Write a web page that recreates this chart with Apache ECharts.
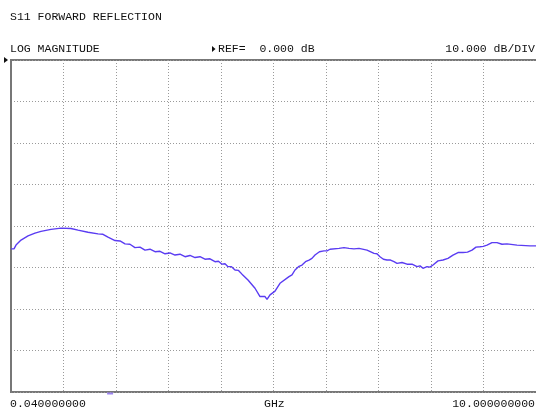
<!DOCTYPE html>
<html><head><meta charset="utf-8">
<script src="https://cdn.jsdelivr.net/npm/echarts@6/dist/echarts.min.js"></script>
<style>html,body{margin:0;padding:0;background:#fff}#c{width:536px;height:408px}</style>
</head><body><div id="c"></div>
<script>
// Frequency (GHz) and S11 log magnitude (dB)
const freqGHz = [0.04,0.097,0.135,0.23,0.363,0.495,0.609,0.799,0.989,1.178,1.311,1.501,1.691,1.785,1.88,2.013,2.108,2.203,2.297,2.392,2.487,2.582,2.677,2.772,2.867,2.962,3.056,3.151,3.246,3.341,3.436,3.531,3.625,3.72,3.815,3.91,3.976,4.043,4.1,4.157,4.223,4.29,4.356,4.422,4.536,4.669,4.764,4.859,4.897,4.954,5.049,5.143,5.314,5.371,5.428,5.494,5.561,5.627,5.694,5.75,5.807,5.892,5.978,6.035,6.092,6.263,6.357,6.452,6.547,6.642,6.794,6.927,6.983,7.04,7.106,7.173,7.24,7.306,7.363,7.458,7.553,7.648,7.743,7.8,7.856,7.932,7.989,8.046,8.141,8.236,8.33,8.425,8.52,8.615,8.7,8.786,8.862,8.937,9.0,9.07,9.165,9.26,9.355,9.45,9.639,9.886,10.0];
const s11dB = [-45.5,-45.5,-44.6,-43.4,-42.4,-41.7,-41.3,-40.8,-40.5,-40.6,-41.0,-41.5,-41.9,-42.0,-42.7,-43.5,-43.6,-44.3,-44.4,-45.2,-45.1,-45.8,-45.6,-46.2,-46.1,-46.7,-46.5,-47.0,-46.8,-47.4,-47.1,-47.6,-47.4,-48.0,-47.9,-48.6,-48.5,-49.2,-49.1,-49.8,-49.8,-50.6,-50.7,-51.6,-53.0,-55.0,-57.0,-57.0,-57.7,-56.6,-55.7,-53.8,-52.2,-51.8,-50.6,-49.8,-49.4,-48.6,-48.2,-47.8,-47.0,-46.2,-46.0,-46.0,-45.6,-45.4,-45.2,-45.4,-45.5,-45.4,-45.8,-46.6,-46.7,-47.4,-48.0,-48.2,-48.2,-48.6,-49.0,-48.8,-49.2,-49.2,-49.8,-49.6,-50.2,-49.8,-49.9,-49.4,-48.4,-48.2,-47.8,-47.0,-46.4,-46.4,-46.3,-45.8,-45.1,-45.0,-44.9,-44.6,-44.0,-44.0,-44.4,-44.3,-44.6,-44.8,-44.8];
const titleText = "S11 FORWARD REFLECTION";
const formatText = "LOG MAGNITUDE";
const refText = "REF=  0.000 dB";
const scaleText = "10.000 dB/DIV";
const startText = "0.040000000";
const unitText = "GHz";
const stopText = "10.000000000";
const markerFreq = [1.92];

const chart = echarts.init(document.getElementById('c'));
const font = '"Liberation Mono", "DejaVu Sans Mono", monospace';
const txt = (left, top, text, extra) => Object.assign({type:'text', left, top, style:{text, font:'11.5px ' + font, fill:'#111'}}, extra||{});
chart.setOption({
  animation:false,
  grid:{left:11, right:0, top:60, bottom:16, show:false},
  xAxis:[
    {type:'value', min:0.04, max:10, show:false, splitLine:{show:false}},
    {type:'value', min:0, max:10, interval:1, position:'bottom',
     axisLine:{show:false}, axisTick:{show:false}, axisLabel:{show:false},
     splitLine:{show:true, lineStyle:{color:'#9a9a9a', type:[1,2], width:1}}}
  ],
  yAxis:{type:'value', min:-80, max:0, interval:10,
    axisLine:{show:true, lineStyle:{color:'#777', width:2}}, axisTick:{show:false}, axisLabel:{show:false},
    splitLine:{show:true, lineStyle:{color:'#9a9a9a', type:[1,2], width:1}}},
  series:[{
    type:'line', xAxisIndex:0, showSymbol:false, smooth:false, z:10,
    data: freqGHz.map((f,i)=>[f, s11dB[i]]),
    lineStyle:{color:'#5a3cf2', width:1.4},
    markPoint:{symbol:'rect', symbolSize:[6,2], symbolOffset:[0,1.5], z:20, itemStyle:{color:'#9c84f0'}, label:{show:false},
      data: markerFreq.map(f=>({coord:[f,-80]}))}
  }],
  graphic:[
    {type:'line', z:-1, shape:{x1:10, y1:60, x2:536, y2:60}, style:{stroke:'#777', lineWidth:2}},
    {type:'line', z:-1, shape:{x1:10, y1:392, x2:536, y2:392}, style:{stroke:'#777', lineWidth:2}},
    {type:'polygon', shape:{points:[[4,57],[8,60],[4,63]]}, style:{fill:'#111'}},
    {type:'polygon', shape:{points:[[212,46],[215.5,49],[212,52]]}, style:{fill:'#111'}},
    txt(10, 11, titleText),
    txt(10, 43, formatText),
    txt(218, 43, refText),
    {type:'text', right:1, top:43, style:{text:scaleText, font:'11.5px ' + font, fill:'#111'}},
    txt(10, 398, startText),
    txt(264, 398, unitText),
    {type:'text', right:1, top:398, style:{text:stopText, font:'11.5px ' + font, fill:'#111'}}
  ]
});
</script></body></html>
